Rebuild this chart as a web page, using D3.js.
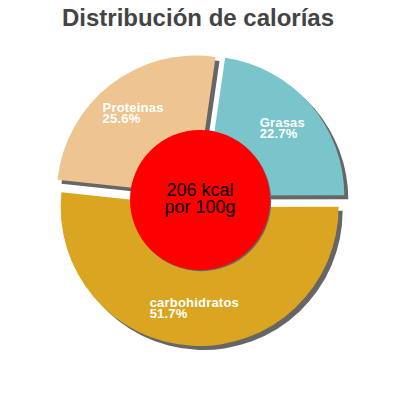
<!DOCTYPE html>
<html>
<head>
<meta charset="utf-8">
<script src="https://cdn.jsdelivr.net/npm/d3@7"></script>
<style>
  html, body { margin: 0; padding: 0; background: #fff; }
  svg { display: block; font-family: "Liberation Sans", Arial, sans-serif; }
</style>
</head>
<body>
<script>
const titleText = "Distribución de calorías";
const categories = ["Grasas", "carbohidratos", "Proteinas"];
const values = [22.7, 51.7, 25.6];
const colors = ["#7ac4cc", "#daa520", "#eec591"];
const centerLines = ["206 kcal", "por 100g"];

const W = 400, H = 400;
const cx = 200, cy = 200;
const outerR = 139, holeR = 70, explode = 7, labelR = 102;
const startDeg = 8.2;

const svg = d3.select("body").append("svg").attr("width", W).attr("height", H);

svg.append("text")
  .attr("x", 198).attr("y", 25.5)
  .attr("text-anchor", "middle")
  .attr("font-size", 24).attr("font-weight", "bold")
  .attr("fill", "#444")
  .text(titleText);

const data = categories.map((c, i) => ({ name: c, value: values[i], color: colors[i] }));
const start = startDeg * Math.PI / 180;
const pie = d3.pie().sort(null).value(d => d.value).startAngle(start).endAngle(start + 2 * Math.PI);
const arcs = pie(data);
const arc = d3.arc().innerRadius(0).outerRadius(outerR);

function offset(a) {
  const m = (a.startAngle + a.endAngle) / 2;
  return [explode * Math.sin(m), -explode * Math.cos(m)];
}

const g = svg.append("g").attr("transform", `translate(${cx},${cy})`);

// shadows
g.selectAll("path.shadow").data(arcs).enter().append("path")
  .attr("class", "shadow")
  .attr("d", arc)
  .attr("fill", "#666")
  .attr("transform", d => { const o = offset(d); return `translate(${o[0] + 4},${o[1] + 4})`; });

// slices
g.selectAll("path.slice").data(arcs).enter().append("path")
  .attr("class", "slice")
  .attr("d", arc)
  .attr("fill", d => d.data.color)
  .attr("transform", d => { const o = offset(d); return `translate(${o[0]},${o[1]})`; });

// labels
arcs.forEach(d => {
  const o = offset(d);
  const m = (d.startAngle + d.endAngle) / 2;
  const lx = o[0] + labelR * Math.sin(m);
  const ly = o[1] - labelR * Math.cos(m);
  const t = g.append("text")
    .attr("font-size", 13).attr("font-weight", "bold")
    .attr("fill", "#fff").attr("letter-spacing", 0.2);
  const t1 = t.append("tspan").attr("y", ly - 2).text(d.data.name);
  const t2 = t.append("tspan").attr("y", ly + 9.5).text(d.data.value.toFixed(1) + "%");
  const w = Math.max(t1.node().getComputedTextLength(), t2.node().getComputedTextLength());
  t1.attr("x", lx - w / 2);
  t2.attr("x", lx - w / 2);
});

// center circle
g.append("circle").attr("cx", 1.2).attr("cy", 1.2).attr("r", holeR).attr("fill", "#666");
g.append("circle").attr("cx", 0).attr("cy", 0).attr("r", holeR).attr("fill", "#ff0000");

const ct = g.append("text").attr("text-anchor", "middle").attr("font-size", 18).attr("fill", "#000");
ct.append("tspan").attr("x", 0).attr("y", -4.3).text(centerLines[0]);
ct.append("tspan").attr("x", 0).attr("y", 13.4).text(centerLines[1]);
</script>
</body>
</html>
